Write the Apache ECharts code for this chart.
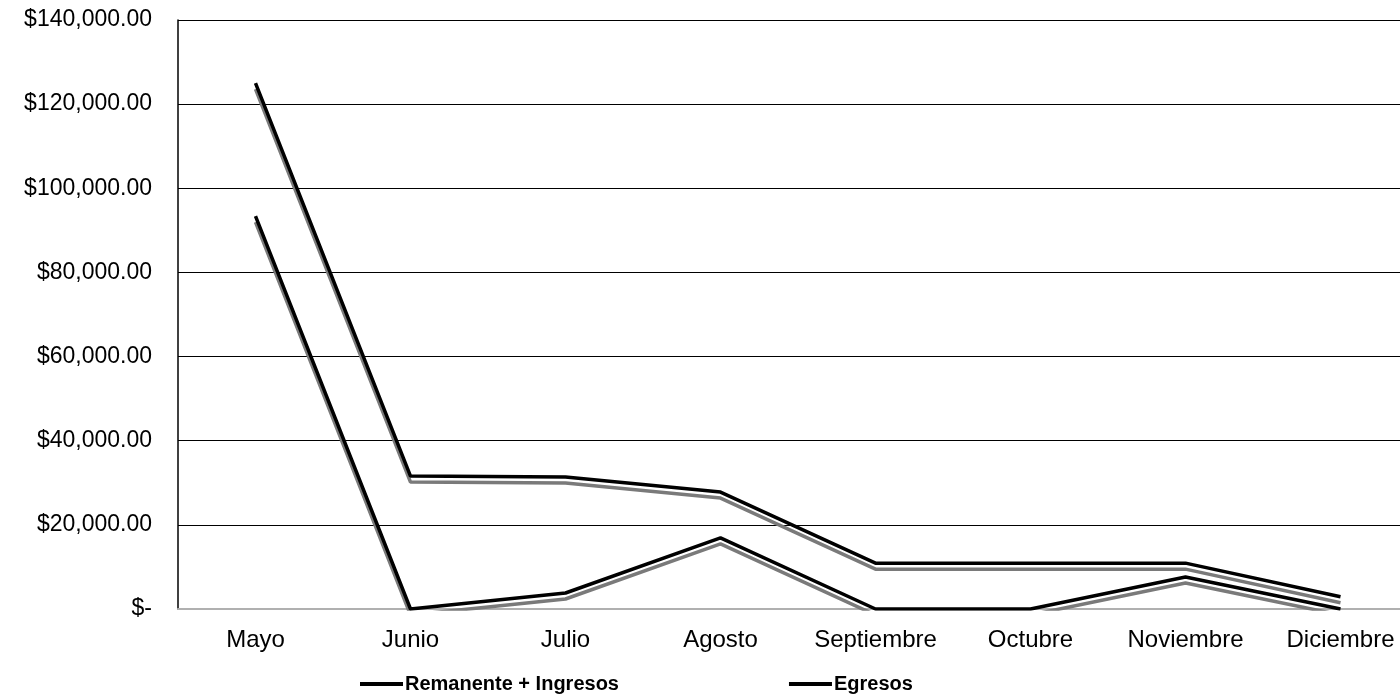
<!DOCTYPE html>
<html>
<head>
<meta charset="utf-8">
<script src="https://cdn.jsdelivr.net/npm/echarts@6/dist/echarts.min.js"></script>
<style>html,body{margin:0;padding:0;background:#fff;overflow:hidden;width:1400px;height:696px}#c{width:1420px;height:696px}</style>
</head>
<body>
<div id="c"></div>
<script>
var categories = ['Mayo','Junio','Julio','Agosto','Septiembre','Octubre','Noviembre','Diciembre'];
var remanenteIngresos = [125000, 31600, 31400, 27800, 10900, 10900, 10900, 2900];
var egresos = [93400, 0, 3800, 16900, 0, 0, 7600, 0];
var seriesNames = ['Remanente + Ingresos', 'Egresos'];

function fmt(v) {
  if (v === 0) return '$-';
  var s = Math.round(v).toString().replace(/\B(?=(\d{3})+(?!\d))/g, ',');
  return '$' + s + '.00';
}

var font = '"Liberation Sans", Arial, sans-serif';
var lineStyleBase = {color: '#000', width: 3.5, shadowColor: '#7a7a7a', shadowBlur: 0, shadowOffsetX: 0, shadowOffsetY: 6};

var chart = echarts.init(document.getElementById('c'));
chart.setOption({
  animation: false,
  backgroundColor: '#fff',
  grid: {left: 178, top: 20, right: 2, bottom: 87, containLabel: false},
  legend: {
    left: 355, top: 669,
    itemGap: 170, itemWidth: 43, itemHeight: 4,
    icon: 'rect',
    textStyle: {fontFamily: font, fontSize: 20, fontWeight: 'bold', color: '#000', padding: [0,0,0,-3]},
    data: seriesNames
  },
  xAxis: {
    type: 'category', data: categories, boundaryGap: true,
    axisLine: {lineStyle: {color: '#b0b0b0', width: 2}},
    axisTick: {show: false},
    axisLabel: {color: '#000', fontFamily: font, fontSize: 24, margin: 19, interval: 0, hideOverlap: false}
  },
  yAxis: {
    type: 'value', min: 0, max: 140000, interval: 20000,
    axisLine: {show: true, lineStyle: {color: '#000', width: 1.5}},
    axisTick: {show: false},
    splitLine: {lineStyle: {color: '#000', width: 1}},
    axisLabel: {color: '#000', fontFamily: font, fontSize: 23, margin: 26, formatter: fmt}
  },
  series: [
    {name: seriesNames[0], type: 'line', data: remanenteIngresos, symbol: 'none', itemStyle: {color: '#000'}, lineStyle: lineStyleBase, z: 3},
    {name: seriesNames[1], type: 'line', data: egresos, symbol: 'none', itemStyle: {color: '#000'}, lineStyle: lineStyleBase, z: 3}
  ]
});
</script>
</body>
</html>
